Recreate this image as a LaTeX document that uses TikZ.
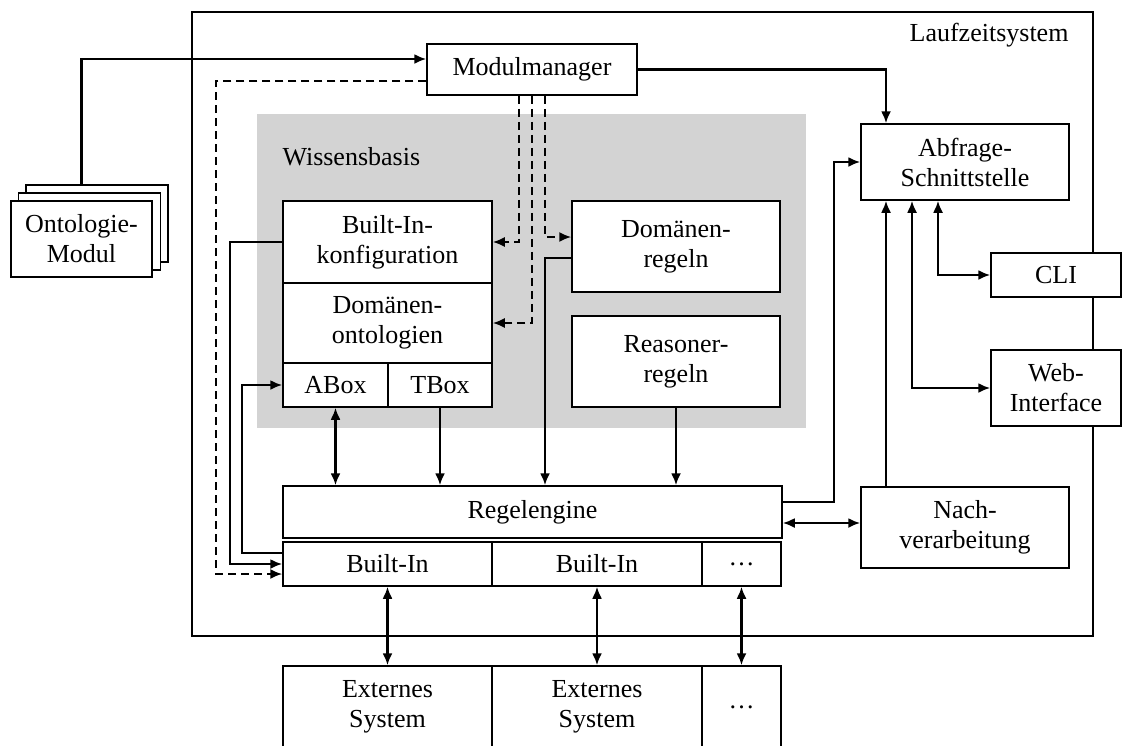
\documentclass[tikz,border=0pt]{standalone}
\usepackage{fontspec}
\setmainfont{Liberation Serif}
\usetikzlibrary{arrows.meta,calc}
\definecolor{kbgray}{RGB}{211,211,211}
\begin{document}
\begin{tikzpicture}[x=1pt,y=-1pt,
  font=\fontsize{26}{30}\selectfont,
  box/.style={draw, line width=1.5pt, fill=white, inner sep=0pt, align=center},
  conn/.style={line width=2.2pt, -{Latex[length=12pt,width=10pt]}},
  bconn/.style={line width=2.2pt, {Latex[length=12pt,width=10pt]}-{Latex[length=12pt,width=10pt]}},
  dconn/.style={line width=1.9pt, dash pattern=on 8pt off 5pt, -{Latex[length=12pt,width=10pt]}}]
\useasboundingbox (0,0) rectangle (1122,745);

% runtime frame and knowledge base background
\draw[line width=2.2pt] (192,12) rectangle (1093,636);
\fill[kbgray] (257,114) rectangle (806,428);
\node[anchor=east] (lzs) at (1072,35) {Laufzeitsystem};
\node[anchor=west] (wb) at (279,157) {Wissensbasis};

% stacked ontology modules
\node[box, minimum width=142pt, minimum height=77pt] (ont3) at (97,223.5) {};
\node[box, minimum width=142pt, minimum height=77pt] (ont2) at (89.5,231.5) {};
\node[box, minimum width=141pt, minimum height=76pt] (ont1) at (81.5,239) {Ontologie-\\Modul};

% module manager
\node[box, minimum width=210pt, minimum height=51pt] (mm) at (532,69.5) {Modulmanager};

% knowledge base contents
\node[box, minimum width=209pt, minimum height=82pt] (bic) at (387.5,242) {Built-In-\\konfiguration};
\node[box, minimum width=209pt, minimum height=80pt] (dont) at (387.5,323) {Domänen-\\ontologien};
\node[box, minimum width=105pt, minimum height=44pt] (abox) at (335.5,385) {ABox};
\node[box, minimum width=104pt, minimum height=44pt] (tbox) at (440,385) {TBox};
\node[box, minimum width=208pt, minimum height=91pt] (dreg) at (676,246.5) {Domänen-\\regeln};
\node[box, minimum width=208pt, minimum height=91pt] (rreg) at (676,361.5) {Reasoner-\\regeln};

% rule engine and built-ins
\node[box, minimum width=499pt, minimum height=52pt] (reng) at (532.5,512) {Regelengine};
\node[box, minimum width=209pt, minimum height=44pt] (bi1) at (387.5,564) {Built-In};
\node[box, minimum width=210pt, minimum height=44pt] (bi2) at (597,564) {Built-In};
\node[box, minimum width=79pt, minimum height=44pt] (bi3) at (741.5,564) {\dots};

% external systems
\node[box, minimum width=209pt, minimum height=82pt] (ext1) at (387.5,707) {Externes\\System};
\node[box, minimum width=210pt, minimum height=82pt] (ext2) at (597,707) {Externes\\System};
\node[box, minimum width=79pt, minimum height=82pt] (ext3) at (741.5,707) {\dots};

% query side
\node[box, minimum width=208pt, minimum height=76pt] (abf) at (965,162) {Abfrage-\\Schnittstelle};
\node[box, minimum width=208pt, minimum height=81pt] (nach) at (965,527.5) {Nach-\\verarbeitung};
\node[box, minimum width=130pt, minimum height=44pt] (cli) at (1056,275) {CLI};
\node[box, minimum width=130pt, minimum height=76pt] (web) at (1056,388) {Web-\\Interface};

% loading modules
\draw[conn] (ont1.center |- ont3.north) |- ([yshift=10.5pt]mm.west);
\draw[dconn] ([yshift=-11.5pt]mm.west) -| ([xshift=-66pt,yshift=-10pt]bi1.west) -- ([yshift=-10pt]bi1.west);
\draw[dconn] ([xshift=-13pt]mm.south) |- (bic.east);
\draw[dconn] (mm.south) |- (dont.east);
\draw[dconn] ([xshift=13pt]mm.south) |- ([yshift=9.5pt]dreg.west);

% knowledge flow into the rule engine
\draw[conn] ([yshift=-11.5pt]dreg.west) -| ([xshift=12.5pt]reng.north);
\draw[conn] (bic.west) -| ([xshift=-52pt]bi1.west) -- (bi1.west);
\draw[conn] ([yshift=11pt]bi1.west) -| ([xshift=-40pt]abox.west) -- (abox.west);
\draw[bconn] (abox.south) -- (abox.south |- reng.north);
\draw[conn] (tbox.south) -- (tbox.south |- reng.north);
\draw[conn] (rreg.south) -- (rreg.south |- reng.north);

% built-ins to external systems
\draw[bconn] (bi1.south) -- (ext1.north);
\draw[bconn] (bi2.south) -- (ext2.north);
\draw[bconn] (bi3.south) -- (ext3.north);

% query interface connections
\draw[conn] (mm.east) -| ([xshift=-79pt]abf.north);
\draw[conn] ([yshift=10pt]reng.east) -- ++(51,0) |- (abf.west);
\draw[bconn] ([yshift=-11pt]reng.east) -- ([yshift=4.5pt]nach.west);
\draw[conn] ([xshift=-79pt]nach.north) -- ([xshift=-79pt]abf.south);
\draw[bconn] ([xshift=-27pt]abf.south) |- (cli.west);
\draw[bconn] ([xshift=-53pt]abf.south) |- (web.west);
\end{tikzpicture}
\end{document}
